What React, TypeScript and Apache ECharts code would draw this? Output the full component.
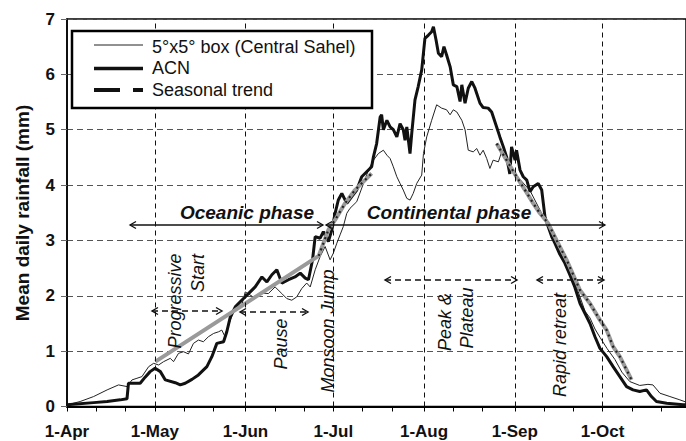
import React, { useEffect, useRef } from 'react';
import * as echarts from 'echarts';

// x = days since 1 April
const monthLabels = ['1-Apr', '1-May', '1-Jun', '1-Jul', '1-Aug', '1-Sep', '1-Oct'];
const monthDays = [0, 30, 61, 91, 122, 153, 183];
const tickDays = [0, 10, 20, 30, 40, 50, 61, 71, 81, 91, 101, 111, 122, 132, 142, 153, 163, 173, 183, 193, 203];

// 5°x5° box (Central Sahel) - thin line
const boxSeries: [number, number][] = [
  [0, 0.03], [4.5, 0.09], [9.1, 0.18], [13.7, 0.3], [17.6, 0.39], [20.5, 0.36], [22.2, 0.48],
  [23.9, 0.51], [25.6, 0.54], [27.9, 0.72], [29.6, 0.78], [31.3, 0.75], [33.0, 0.81], [35.3, 0.87],
  [36.4, 0.81], [38.1, 0.96], [39.8, 0.99], [41.5, 0.95], [43.2, 1.14], [44.9, 1.2], [46.6, 1.17],
  [48.3, 1.26], [50.1, 1.32], [51.8, 1.35], [52.9, 1.38], [54.0, 1.26], [55.8, 1.56], [57.5, 1.77],
  [59.7, 1.83], [60.9, 2.07], [63.6, 1.98], [66.7, 2.05], [68.8, 2.04], [71.1, 2.16], [73.4, 2.04],
  [75.1, 1.95], [76.8, 1.92], [78.5, 1.98], [80.2, 2.13], [81.9, 2.23], [83.1, 2.16], [84.8, 2.47],
  [86.5, 2.71], [88.2, 2.89], [89.9, 2.65], [91.0, 2.77], [92.2, 2.95], [93.3, 3.1], [94.4, 3.25],
  [95.6, 3.49], [96.7, 3.58], [99.0, 3.7], [101.3, 4.03], [103.0, 4.27], [104.7, 4.45], [106.4, 4.57],
  [108.1, 4.63], [109.3, 4.54], [110.4, 4.48], [111.5, 4.33], [112.7, 4.15], [113.8, 4.03], [114.9, 3.91],
  [116.1, 3.76], [117.2, 3.73], [118.3, 3.85], [119.5, 4.03], [121.2, 4.18], [121.8, 4.57], [122.9, 4.87],
  [124.6, 5.17], [126.3, 5.45], [128.0, 5.39], [129.7, 5.36], [130.9, 5.27], [132.0, 5.36], [133.2, 5.32],
  [134.9, 5.17], [136.0, 5.0], [137.1, 4.63], [138.8, 4.6], [140.0, 4.66], [141.1, 4.54], [142.2, 4.63],
  [143.4, 4.48], [144.5, 4.3], [145.6, 4.45], [147.4, 4.42], [148.5, 4.6], [150.2, 4.45], [152.4, 4.25],
  [154.8, 4.1], [158.2, 3.9], [161.6, 3.55], [165.0, 3.2], [168.4, 2.8], [171.8, 2.45], [174.5, 2.1],
  [177.0, 1.72], [178.7, 1.6], [180.4, 1.4], [182.1, 1.25], [184.5, 1.05], [187.2, 0.85], [189.6, 0.62],
  [192.3, 0.45], [195.7, 0.38], [198.5, 0.4], [200.2, 0.39], [202.6, 0.24], [206.0, 0.18], [209.4, 0.12],
  [211.5, 0.08],
];

// ACN - thick line
const acnSeries: [number, number][] = [
  [0, 0.03], [9.1, 0.07], [13.7, 0.09], [18.2, 0.12], [20.5, 0.14], [21.0, 0.42], [25.0, 0.42],
  [26.7, 0.53], [28.4, 0.63], [30.1, 0.69], [31.9, 0.63], [33.6, 0.48], [37.0, 0.43], [38.7, 0.39],
  [40.4, 0.42], [42.7, 0.49], [44.9, 0.57], [47.8, 0.72], [49.5, 0.9], [51.2, 1.14], [53.5, 1.17],
  [54.6, 1.35], [55.8, 1.62], [57.5, 1.8], [59.7, 1.92], [62.0, 2.04], [64.3, 2.16], [66.6, 2.34],
  [68.3, 2.25], [70.0, 2.38], [71.7, 2.47], [73.4, 2.23], [75.7, 2.29], [77.9, 2.34], [79.7, 2.41],
  [81.4, 2.32], [82.5, 2.29], [83.9, 2.65], [84.8, 3.07], [86.5, 3.04], [87.6, 3.16], [89.3, 2.98],
  [90.5, 3.19], [91.6, 3.49], [92.7, 3.73], [93.9, 3.85], [95.6, 3.67], [97.3, 3.79], [99.0, 3.91],
  [100.7, 4.15], [102.4, 4.24], [104.1, 4.33], [104.7, 4.51], [105.8, 4.75], [107.0, 5.23], [107.5, 5.27],
  [108.1, 5.0], [109.3, 5.17], [110.4, 5.05], [111.5, 5.0], [112.7, 4.87], [113.8, 5.11], [114.9, 5.0],
  [115.5, 4.81], [116.1, 5.05], [117.2, 4.57], [117.8, 4.94], [118.9, 5.54], [120.0, 5.78], [121.2, 6.08],
  [122.3, 6.65], [123.5, 6.71], [124.6, 6.77], [125.2, 6.86], [126.1, 6.62], [126.9, 6.38], [128.0, 6.32],
  [128.8, 6.5], [129.7, 6.35], [130.9, 6.14], [132.0, 5.81], [133.2, 5.78], [134.3, 5.51], [134.9, 5.81],
  [136.0, 5.48], [137.1, 5.75], [138.3, 5.87], [139.4, 5.75], [141.1, 5.48], [142.2, 5.4], [143.9, 5.39],
  [145.1, 5.32], [146.8, 5.05], [147.9, 4.87], [149.1, 4.69], [150.2, 4.51], [151.3, 4.2], [151.9, 4.69],
  [153.1, 4.45], [153.6, 4.63], [154.8, 4.27], [155.9, 4.15], [157.1, 4.09], [158.2, 3.88], [159.3, 3.97],
  [161.0, 4.03], [162.2, 3.91], [163.3, 3.43], [164.4, 3.25], [165.6, 3.07], [166.7, 2.95], [168.4, 2.75],
  [170.1, 2.59], [171.8, 2.38], [173.5, 2.16], [175.3, 1.86], [177.0, 1.68], [178.7, 1.5], [180.4, 1.26],
  [182.1, 1.05], [184.4, 0.9], [186.6, 0.72], [188.9, 0.54], [191.2, 0.36], [193.4, 0.3], [195.7, 0.27],
  [198.0, 0.3], [199.7, 0.18], [201.4, 0.09], [204.9, 0.06], [210.5, 0.03], [211.5, 0.03],
];

// Seasonal trend (two pieces)
const trendEarly: [number, number][] = [
  [30.2, 0.81], [86.0, 2.72], [89.3, 3.19], [91.6, 3.37], [95.0, 3.67], [98.4, 3.91], [104.1, 4.21],
];
const trendLate: [number, number][] = [
  [146.8, 4.75], [150.2, 4.45], [153.6, 4.15], [156.5, 3.91], [159.3, 3.67], [161.6, 3.49], [164.4, 3.31],
  [167.3, 3.0], [170.7, 2.65], [175.3, 2.1], [178.7, 1.86], [182.1, 1.56], [184.4, 1.38], [186.6, 1.08],
  [188.9, 0.9], [191.2, 0.66], [192.9, 0.48],
];

const FONT = '"Liberation Sans", Arial, Helvetica, sans-serif';
const INK = '#111';

function arrow(x1: number, x2: number, y: number, dashed: boolean): any[] {
  const w = dashed ? 1.4 : 1.3;
  const hl = 6;
  const hh = 3.5;
  const style = { stroke: INK, lineWidth: w, fill: 'none' };
  return [
    {
      type: 'line',
      shape: { x1, y1: y, x2, y2: y },
      style: { ...style, lineDash: dashed ? [6, 4] : null },
      z: 50,
    },
    { type: 'polyline', shape: { points: [[x1 + hl, y - hh], [x1, y], [x1 + hl, y + hh]] }, style, z: 50 },
    { type: 'polyline', shape: { points: [[x2 - hl, y - hh], [x2, y], [x2 - hl, y + hh]] }, style, z: 50 },
  ];
}

function vtext(text: string, x: number, y: number): any {
  return {
    type: 'text',
    x,
    y,
    rotation: Math.PI / 2,
    z: 60,
    style: {
      text,
      fill: INK,
      font: `italic 18px ${FONT}`,
      align: 'center',
      verticalAlign: 'middle',
    },
  };
}

function htext(text: string, x: number, y: number, font: string, align = 'center'): any {
  return {
    type: 'text',
    x,
    y,
    z: 60,
    style: { text, fill: INK, font, align, verticalAlign: 'middle' },
  };
}

export default function App() {
  const ref = useRef<HTMLDivElement>(null);

  useEffect(() => {
    if (!ref.current) return;
    const chart = echarts.init(ref.current, null, { renderer: 'svg' });

    const lineBase = { type: 'line', symbol: 'none', silent: true, animation: false };

    const option: any = {
      animation: false,
      backgroundColor: '#fff',
      textStyle: { fontFamily: FONT },
      grid: {
        left: 67,
        top: 19,
        right: 0,
        bottom: 34.5,
        show: true,
        borderColor: '#000',
        borderWidth: 1.5,
        backgroundColor: 'transparent',
        containLabel: false,
        outerBoundsMode: 'none',
      },
      xAxis: {
        type: 'value',
        min: 0,
        max: 211.5,
        axisLine: { show: true, lineStyle: { color: '#000', width: 2 } },
        axisTick: {
          show: true,
          customValues: tickDays,
          length: 5,
          lineStyle: { color: '#000', width: 1 },
        },
        axisLabel: {
          customValues: monthDays,
          formatter: (v: number) => {
            const i = monthDays.indexOf(Math.round(v));
            return i >= 0 ? monthLabels[i] : '';
          },
          color: INK,
          fontSize: 17,
          fontWeight: 'bold',
          fontFamily: FONT,
          margin: 16,
        },
        splitLine: { show: false },
      },
      yAxis: {
        type: 'value',
        min: 0,
        max: 7,
        interval: 1,
        axisLine: { show: true, lineStyle: { color: '#000', width: 1.5 } },
        axisTick: { show: true, length: 6, lineStyle: { color: '#666', width: 1 } },
        axisLabel: {
          color: INK,
          fontSize: 17,
          fontWeight: 'bold',
          fontFamily: FONT,
          margin: 12,
        },
        splitLine: { show: true, lineStyle: { type: [6, 4], color: '#555', width: 1 } },
      },
      series: [
        {
          ...lineBase,
          name: 'grid',
          data: [[0, 0]],
          lineStyle: { opacity: 0 },
          z: 1,
          markLine: {
            silent: true,
            symbol: ['none', 'none'],
            label: { show: false },
            animation: false,
            lineStyle: { type: [5, 4], color: '#111', width: 1 },
            emphasis: { disabled: true },
            data: monthDays.slice(1).map((d) => ({ xAxis: d })),
          },
        },
        {
          ...lineBase,
          name: '5°x5° box (Central Sahel)',
          data: boxSeries,
          lineStyle: { color: '#222', width: 1 },
          z: 2,
        },
        {
          ...lineBase,
          name: 'ACN',
          data: acnSeries,
          lineStyle: { color: INK, width: 3 },
          z: 3,
        },
        {
          ...lineBase,
          name: 'Seasonal trend',
          data: trendEarly,
          lineStyle: { color: '#9a9a9a', width: 4 },
          z: 4,
        },
        {
          ...lineBase,
          name: 'Seasonal trend late',
          data: trendLate,
          lineStyle: { color: '#9a9a9a', width: 4 },
          z: 4,
        },
        {
          ...lineBase,
          name: 'trend overlay early',
          data: trendEarly.slice(1),
          lineStyle: { color: '#222', width: 2.2, type: [2, 4] },
          z: 5,
        },
        {
          ...lineBase,
          name: 'trend overlay late',
          data: trendLate,
          lineStyle: { color: '#222', width: 2.2, type: [2, 4] },
          z: 5,
        },
      ],
      graphic: [
        // y axis name
        {
          type: 'text',
          x: 22,
          y: 213,
          rotation: Math.PI / 2,
          z: 60,
          style: {
            text: 'Mean daily rainfall (mm)',
            fill: INK,
            font: `bold 19px ${FONT}`,
            align: 'center',
            verticalAlign: 'middle',
          },
        },
        // legend
        {
          type: 'rect',
          z: 80,
          shape: { x: 72, y: 31, width: 300, height: 77 },
          style: { fill: '#fff', stroke: '#000', lineWidth: 2.5 },
        },
        { type: 'line', z: 81, shape: { x1: 94, y1: 45, x2: 143, y2: 45 }, style: { stroke: '#222', lineWidth: 1 } },
        { type: 'line', z: 81, shape: { x1: 94, y1: 68.5, x2: 143, y2: 68.5 }, style: { stroke: INK, lineWidth: 3.5 } },
        {
          type: 'line',
          z: 81,
          shape: { x1: 94, y1: 90, x2: 143, y2: 90 },
          style: { stroke: INK, lineWidth: 4, lineDash: [26, 13] },
        },
        { ...htext('5°x5° box (Central Sahel)', 152, 46.5, `18px ${FONT}`, 'left'), z: 82 },
        { ...htext('ACN', 152, 68, `18px ${FONT}`, 'left'), z: 82 },
        { ...htext('Seasonal trend', 152, 90, `18px ${FONT}`, 'left'), z: 82 },
        // phases
        htext('Oceanic phase', 247, 212, `italic bold 19px ${FONT}`),
        htext('Continental phase', 449, 212, `italic bold 19px ${FONT}`),
        ...arrow(130, 323, 225, false),
        ...arrow(326, 605, 225, false),
        // sub-phase arrows
        ...arrow(152, 222, 311, true),
        ...arrow(240, 308, 312, true),
        ...arrow(385, 517, 280, true),
        ...arrow(537, 604, 280, true),
        // rotated labels
        vtext('Progressive', 175, 301),
        vtext('Start', 198, 273),
        vtext('Pause', 281, 344),
        vtext('Monsoon Jump', 328, 331),
        vtext('Peak &', 445, 322),
        vtext('Plateau', 467, 318),
        vtext('Rapid retreat', 560, 345),
      ],
    };

    chart.setOption(option);
    return () => chart.dispose();
  }, []);

  return (
    <div
      ref={ref}
      style={{ position: 'absolute', left: 0, top: 0, width: 686, height: 441, background: '#fff' }}
    />
  );
}
